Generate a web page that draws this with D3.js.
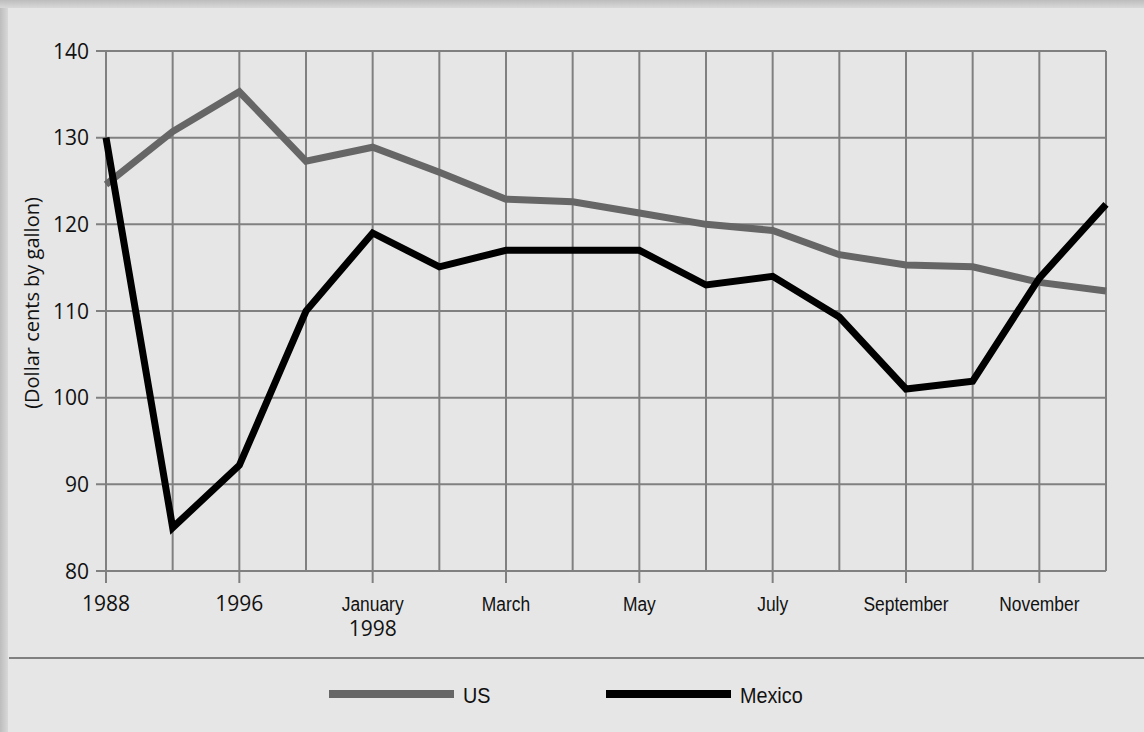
<!DOCTYPE html>
<html><head><meta charset="utf-8">
<script src="https://cdn.jsdelivr.net/npm/d3@7"></script>
<style>
html,body{margin:0;padding:0;background:#e6e6e6;}
svg{display:block;}
</style></head>
<body>
<svg id="chart" width="1144" height="732"></svg>
<script>
const categories = ["1988","1990","1996","1997","January 1998","February","March","April","May","June","July","August","September","October","November","December"];
const tickLabels = ["1988","","1996","","January\n1998","","March","","May","","July","","September","","November",""];
const usValues = [124.6,130.7,135.3,127.3,128.9,126.0,122.9,122.6,121.3,120.0,119.3,116.5,115.3,115.1,113.3,112.3];
const mexicoValues = [130.0,85.0,92.2,110.0,119.0,115.1,117.0,117.0,117.0,113.0,114.0,109.3,101.0,101.9,113.8,122.3];
const yTicks = [80,90,100,110,120,130,140];
const seriesNames = ["US","Mexico"];

const svg = d3.select("#chart");
const W = 1144, H = 732;
const defs = svg.append("defs");
const gl = defs.append("linearGradient").attr("id","shL").attr("x1","0").attr("x2","1");
gl.append("stop").attr("offset","0").attr("stop-color","#bdbdbd");
gl.append("stop").attr("offset","1").attr("stop-color","#d8d8d8");
const gt = defs.append("linearGradient").attr("id","shT").attr("x1","0").attr("x2","0").attr("y1","0").attr("y2","1");
gt.append("stop").attr("offset","0").attr("stop-color","#bdbdbd");
gt.append("stop").attr("offset","1").attr("stop-color","#d8d8d8");
svg.append("rect").attr("x",0).attr("y",0).attr("width",W).attr("height",H).attr("fill","#e6e6e6");
svg.append("rect").attr("x",0).attr("y",0).attr("width",8).attr("height",H).attr("fill","url(#shL)");
svg.append("rect").attr("x",0).attr("y",0).attr("width",W).attr("height",8).attr("fill","url(#shT)");

const x = d3.scalePoint().domain(categories).range([106,1106]);
const y = d3.scaleLinear().domain([80,140]).range([571,51]);
const gridColor = "#808080";
const numFont = "Open Sans, Noto Sans, sans-serif";
const narrowFont = "Liberation Sans, Arial, sans-serif";

// horizontal grid
svg.append("g").selectAll("line").data(yTicks).join("line")
  .attr("x1",96).attr("x2",1106).attr("y1",d=>y(d)).attr("y2",d=>y(d))
  .attr("stroke",gridColor).attr("stroke-width",2);
// vertical grid
svg.append("g").selectAll("line").data(categories).join("line")
  .attr("x1",d=>x(d)).attr("x2",d=>x(d)).attr("y1",y(140)).attr("y2",(d,i)=>tickLabels[i]?583:y(80))
  .attr("stroke",gridColor).attr("stroke-width",2);

// y tick labels
svg.append("g").selectAll("text").data(yTicks).join("text")
  .attr("x",89).attr("y",d=>y(d)).attr("dy","0.36em").attr("text-anchor","end")
  .attr("font-family",numFont).attr("font-size",21).attr("fill","#111")
  .text(d=>d);

// x tick labels
const xl = svg.append("g");
categories.forEach((c,i)=>{
  const lab = tickLabels[i];
  if(!lab) return;
  const parts = lab.split("\n");
  const isYear = /^\d+$/.test(parts[0]);
  if(isYear){
    xl.append("text").attr("x",x(c)).attr("y",611).attr("text-anchor","middle").attr("fill","#111")
      .attr("font-family",numFont).attr("font-size",21).text(parts[0]);
  } else {
    xl.append("text").attr("transform",`translate(${x(c)},611) scale(0.87,1)`).attr("text-anchor","middle").attr("fill","#111")
      .attr("font-family",narrowFont).attr("font-size",20).text(parts[0]);
    if(parts[1]){
      xl.append("text").attr("x",x(c)).attr("y",636).attr("text-anchor","middle")
        .attr("fill","#111").attr("font-family",numFont).attr("font-size",21).text(parts[1]);
    }
  }
});

// y axis title
svg.append("text").attr("transform","translate(32,303) rotate(-90)").attr("text-anchor","middle")
  .attr("dy","0.35em").attr("font-family",numFont).attr("font-size",20).attr("fill","#111")
  .text("(Dollar cents by gallon)");

// lines
const line = d3.line().x((d,i)=>x(categories[i])).y(d=>y(d));
svg.append("path").datum(usValues).attr("d",line).attr("fill","none")
  .attr("stroke","#666666").attr("stroke-width",7).attr("stroke-linejoin","miter");
svg.append("path").datum(mexicoValues).attr("d",line).attr("fill","none")
  .attr("stroke","#000000").attr("stroke-width",7).attr("stroke-linejoin","miter");

// separator
svg.append("line").attr("x1",9).attr("x2",W).attr("y1",658).attr("y2",658).attr("stroke",gridColor).attr("stroke-width",2);

// legend
const legend = [{name:seriesNames[0],color:"#666666",x:329},{name:seriesNames[1],color:"#000000",x:606}];
const lg = svg.append("g");
legend.forEach(l=>{
  lg.append("line").attr("x1",l.x).attr("x2",l.x+125).attr("y1",694).attr("y2",694).attr("stroke",l.color).attr("stroke-width",8);
  lg.append("text").attr("transform",`translate(${l.x+134},703) scale(0.9,1)`).attr("font-family",narrowFont)
    .attr("font-size",22).attr("fill","#111").text(l.name);
});
</script>
</body></html>
